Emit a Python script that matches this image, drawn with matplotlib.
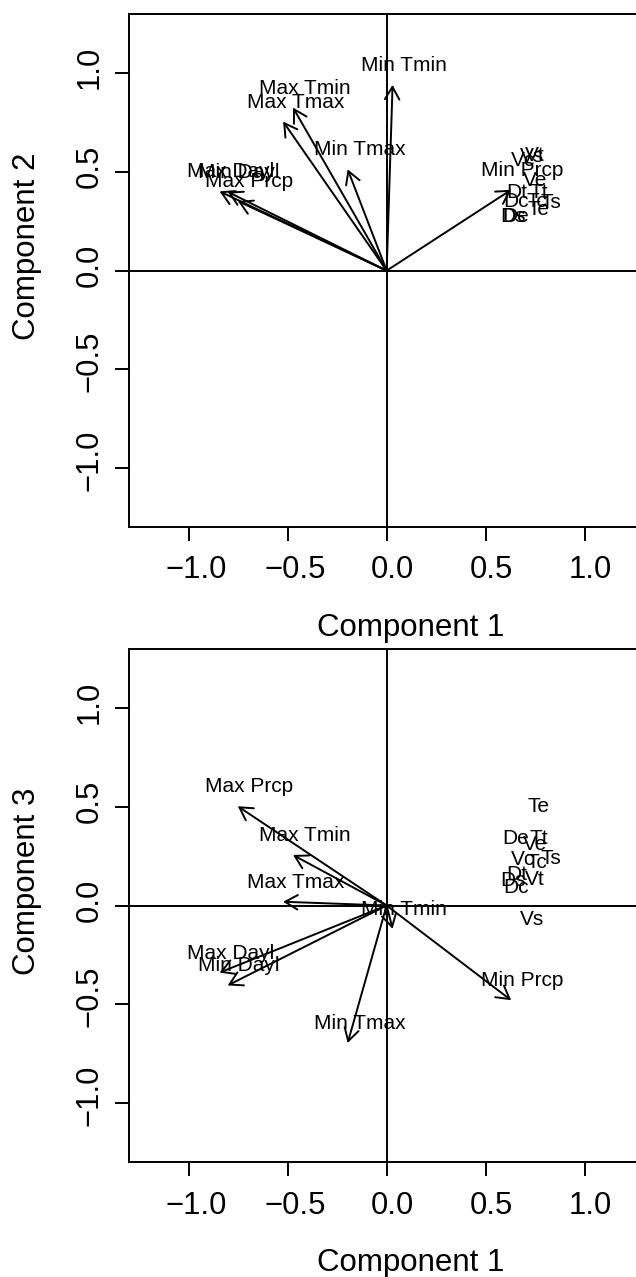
import matplotlib
matplotlib.use("Agg")
import matplotlib.pyplot as plt
from matplotlib.patches import FancyArrowPatch, ArrowStyle
from matplotlib.transforms import ScaledTranslation, blended_transform_factory

plt.rcParams['font.family'] = ['Liberation Sans', 'DejaVu Sans']

# Loadings of the climate predictors (arrows)
predictors = ["Max Tmin", "Max Tmax", "Min Tmin", "Min Tmax",
              "Max Dayl", "Min Dayl", "Max Prcp", "Min Prcp"]
pred_pc1 = [-0.473, -0.523, 0.030, -0.197, -0.844, -0.803, -0.752, 0.629]
pred_pc2 = [0.827, 0.756, 0.942, 0.514, 0.402, 0.400, 0.353, 0.410]
pred_pc3 = [0.256, 0.019, -0.118, -0.697, -0.340, -0.405, 0.503, -0.480]

# Positions of the response traits (text only)
responses = ["Dc", "De", "Ds", "Dt", "Tc", "Te", "Ts", "Tt", "Vc", "Ve", "Vs", "Vt"]
resp_pc1 = [0.638, 0.634, 0.624, 0.644, 0.747, 0.751, 0.818, 0.757, 0.675, 0.736, 0.716, 0.737]
resp_pc2 = [0.358, 0.282, 0.282, 0.406, 0.360, 0.318, 0.355, 0.406, 0.570, 0.469, 0.586, 0.594]
resp_pc3 = [0.102, 0.348, 0.137, 0.167, 0.226, 0.513, 0.250, 0.348, 0.242, 0.318, -0.063, 0.143]

ticks = [-1.0, -0.5, 0.0, 0.5, 1.0]
tick_labels = ["\u22121.0", "\u22120.5", "0.0", "0.5", "1.0"]
lim = (-1.3, 1.3)

W, H, DPI = 636, 1277, 100
fig = plt.figure(figsize=(W / DPI, H / DPI), dpi=DPI)
renderer = fig.canvas.get_renderer()

PX = 72.0 / DPI          # points per pixel
LW = 1.4
SKEW = 0.13              # centred strings sit slightly right of their anchor
LAB_FS, TICK_FS, SMALL_FS = 22.5, 22.3, 15
HEAD_PX = 14.5


def px_axes(left, top, right, bottom):
    return fig.add_axes([left / W, 1 - bottom / H, (right - left) / W, (bottom - top) / H])


def shifted(t, dx_px, dy_px):
    t.set_transform(t.get_transform() +
                    ScaledTranslation(dx_px / DPI, dy_px / DPI, fig.dpi_scale_trans))


def rtext(ax, x, y, s, trans, fs, rot=0, dx_px=0, dy_px=0):
    t = ax.text(x, y, s, transform=trans, fontsize=fs, rotation=rot,
                rotation_mode='anchor', ha='center', va='baseline', clip_on=False)
    bb = t.get_window_extent(renderer)
    if rot == 0:
        shifted(t, dx_px + SKEW * bb.width, dy_px)
    else:
        shifted(t, dx_px, dy_px + SKEW * bb.height)
    return t


def panel(ax, ys, resp_ys, ylabel):
    ax.set_xlim(*lim)
    ax.set_ylim(*lim)
    ax.set_xticks(ticks)
    ax.set_yticks(ticks)
    ax.tick_params(direction='out', length=14 * PX, width=LW,
                   labelbottom=False, labelleft=False, top=False, right=False)
    for sp in ax.spines.values():
        sp.set_linewidth(LW)
    ax.axhline(0, color='black', lw=LW)
    ax.axvline(0, color='black', lw=LW)

    head = ArrowStyle('->', head_length=HEAD_PX * PX * 0.866, head_width=HEAD_PX * PX * 0.5)
    for name, x, y in zip(predictors, pred_pc1, ys):
        ax.add_patch(FancyArrowPatch((0, 0), (x, y), arrowstyle=head, mutation_scale=1,
                                     shrinkA=0, shrinkB=0, lw=LW, color='black'))
        rtext(ax, x, y, name, ax.transData, SMALL_FS, dy_px=14)
    for name, x, y in zip(responses, resp_pc1, resp_ys):
        rtext(ax, x, y, name, ax.transData, SMALL_FS, dy_px=-7.4)

    bx = blended_transform_factory(ax.transData, ax.transAxes)
    by = blended_transform_factory(ax.transAxes, ax.transData)
    for v, s in zip(ticks, tick_labels):
        rtext(ax, v, 0, s, bx, TICK_FS, dy_px=-51.5)
        rtext(ax, 0, v, s, by, TICK_FS, rot=90, dx_px=-31.8)
    rtext(ax, 0.5, 0, "Component 1", ax.transAxes, LAB_FS, dy_px=-109)
    rtext(ax, 0, 0.5, ylabel, ax.transAxes, LAB_FS, rot=90, dx_px=-94.5)


ax1 = px_axes(129.3, 14.3, 644.0, 527.0)
ax2 = px_axes(129.3, 649.0, 644.0, 1162.0)
panel(ax1, pred_pc2, resp_pc2, "Component 2")
panel(ax2, pred_pc3, resp_pc3, "Component 3")

fig.savefig("out.png", dpi=DPI)
